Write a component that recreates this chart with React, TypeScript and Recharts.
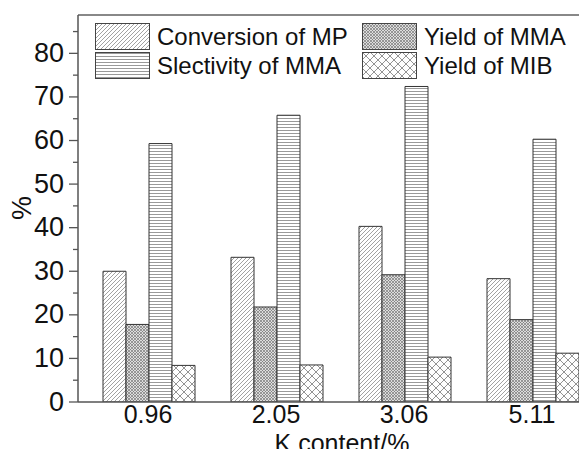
import React from 'react';
import { BarChart, Bar, XAxis, YAxis, ReferenceLine } from 'recharts';

// K content categories and the four measured series (%)
const categories = ['0.96', '2.05', '3.06', '5.11'];
const conversionMP = [30.0, 33.2, 40.3, 28.3];
const yieldMMA = [17.8, 21.8, 29.2, 18.9];
const selectivityMMA = [59.3, 65.8, 72.4, 60.3];
const yieldMIB = [8.4, 8.5, 10.3, 11.2];
const yTicks = [0, 5, 10, 15, 20, 25, 30, 35, 40, 45, 50, 55, 60, 65, 70, 75, 80, 85];

const data = categories.map((k, i) => ({
  k,
  conv: conversionMP[i],
  ymma: yieldMMA[i],
  sel: selectivityMMA[i],
  ymib: yieldMIB[i],
}));

const FONT = '"Liberation Sans", Arial, sans-serif';
const AXIS = '#555';

const series = [
  { key: 'conv', name: 'Conversion of MP', fill: 'url(#pDiag)', col: 0, row: 0 },
  { key: 'ymma', name: 'Yield of MMA', fill: 'url(#pDots)', col: 1, row: 0 },
  { key: 'sel', name: 'Slectivity of MMA', fill: 'url(#pHoriz)', col: 0, row: 1 },
  { key: 'ymib', name: 'Yield of MIB', fill: 'url(#pCross)', col: 1, row: 1 },
];

const YTick = (props: any) => {
  const { x, y, payload } = props;
  const major = payload.value % 10 === 0;
  return (
    <g>
      <line x1={x - (major ? 9 : 5)} x2={x} y1={y} y2={y} stroke={AXIS} strokeWidth={1.3} />
      {major && (
        <text x={x - 14} y={y} dy={8.5} textAnchor="end" fontSize={27} fill="#111" fontFamily={FONT}>
          {payload.value}
        </text>
      )}
    </g>
  );
};

// legend drawn as an overlay so it does not eat into the plot area
const LegendBox = () => (
  <div style={{ position: 'absolute', left: 0, top: 0, width: 587, height: 90, fontFamily: FONT, pointerEvents: 'none' }}>
    {series.map((s) => {
      const left = s.col === 0 ? 95 : 362;
      const top = s.row === 0 ? 23 : 52;
      return (
        <div key={s.key} style={{ position: 'absolute', left, top, height: 27, display: 'flex', alignItems: 'center' }}>
          <svg width={55} height={27} style={{ display: 'block' }}>
            <rect x={0.5} y={0.5} width={54} height={26} fill={s.fill} stroke="#444" strokeWidth={1} />
          </svg>
          <span style={{ marginLeft: 7, fontSize: 24, color: '#111', lineHeight: '27px', whiteSpace: 'nowrap' }}>
            {s.name}
          </span>
        </div>
      );
    })}
  </div>
);

export default function App() {
  return (
    <div style={{ margin: -8, width: 587, height: 457, overflow: 'hidden', position: 'relative', background: '#fff' }}>
      <BarChart
        width={610}
        height={457}
        data={data}
        margin={{ top: 15, right: 4, bottom: 0, left: 0 }}
        barCategoryGap={19}
        barGap={0}
      >
        <defs>
          <pattern id="pDiag" patternUnits="userSpaceOnUse" width={4} height={4}>
            <rect width={4} height={4} fill="#fff" />
            <path d="M-1,1 l2,-2 M0,4 l4,-4 M3,5 l2,-2" stroke="#8a8a8a" strokeWidth={0.8} />
          </pattern>
          <pattern id="pDots" patternUnits="userSpaceOnUse" width={3} height={3}>
            <rect width={3} height={3} fill="#ddd" />
            <path d="M0,0 L3,3 M3,0 L0,3" stroke="#777" strokeWidth={0.7} />
          </pattern>
          <pattern id="pHoriz" patternUnits="userSpaceOnUse" width={4} height={3}>
            <rect width={4} height={3} fill="#fff" />
            <line x1={0} x2={4} y1={1.5} y2={1.5} stroke="#999" strokeWidth={1} />
          </pattern>
          <pattern id="pCross" patternUnits="userSpaceOnUse" width={8} height={8}>
            <rect width={8} height={8} fill="#fff" />
            <path d="M0,0 L8,8 M8,0 L0,8" stroke="#888" strokeWidth={0.9} />
          </pattern>
        </defs>
        <XAxis
          dataKey="k"
          height={55}
          padding={{ left: 6, right: 10 }}
          tickLine={false}
          tickSize={0}
          tickMargin={3}
          axisLine={{ stroke: AXIS, strokeWidth: 1.5 }}
          tick={{ fontSize: 25, fill: '#111', fontFamily: FONT }}
          label={{
            content: () => (
              <text x={342} y={452} textAnchor="middle" fontSize={25} fill="#111" fontFamily={FONT}>
                K content/%
              </text>
            ),
          }}
        />
        <YAxis
          width={78}
          type="number"
          domain={[0, 88.8]}
          allowDataOverflow
          ticks={yTicks}
          interval={0}
          tickSize={0}
          tickMargin={0}
          tickLine={false}
          axisLine={{ stroke: AXIS, strokeWidth: 1.5 }}
          tick={<YTick />}
          label={{
            content: () => (
              <text x={22} y={208} transform="rotate(-90 22 208)" textAnchor="middle" dominantBaseline="central" fontSize={27} fill="#111" fontFamily={FONT}>
                %
              </text>
            ),
          }}
        />
        <ReferenceLine y={88.8} stroke="#888" strokeWidth={2} ifOverflow="visible" />
        {series.map((s) => (
          <Bar
            key={s.key}
            dataKey={s.key}
            name={s.name}
            fill={s.fill}
            stroke="#333"
            strokeWidth={1}
            isAnimationActive={false}
          />
        ))}
      </BarChart>
      <LegendBox />
    </div>
  );
}
